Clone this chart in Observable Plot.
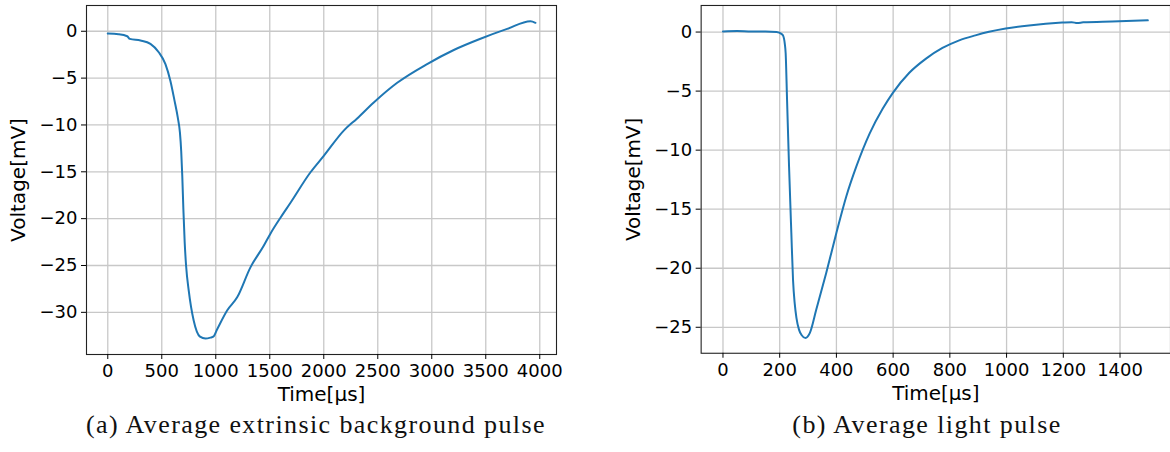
<!DOCTYPE html>
<html>
<head>
<meta charset="utf-8">
<script src="https://cdn.jsdelivr.net/npm/d3@7"></script>
<script src="https://cdn.jsdelivr.net/npm/@observablehq/plot@0.6"></script>
<style>
html, body { margin: 0; padding: 0; background: #fff; overflow: hidden; }
#root { position: relative; width: 1170px; height: 452px; overflow: hidden; background: #fff; }
.panel { position: absolute; top: 0; }
.cap { position: absolute; font-family: "Liberation Serif", serif; font-size: 26px; line-height: 1; color: #111; white-space: nowrap; transform: translateX(-50%); letter-spacing: 1.4px; }
</style>
</head>
<body>
<div id="root">
  <div id="pa" class="panel" style="left:0px"></div>
  <div id="pb" class="panel" style="left:600px"></div>
  <div class="cap" style="left:316px; top:412px">(a) Average extrinsic background pulse</div>
  <div class="cap" style="left:927px; top:412px">(b) Average light pulse</div>
</div>
<script>
// Panel (a): average extrinsic background pulse
const timeA = [0, 100, 180, 204, 303, 395, 472, 534, 580, 618, 648, 668, 680, 690, 700, 712, 725, 750, 796, 854, 905, 951, 977, 1013, 1105, 1198, 1321, 1444, 1506, 1599, 1692, 1877, 2000, 2185, 2309, 2463, 2680, 2957, 3204, 3451, 3698, 3914, 3960];
const voltA = [-0.25, -0.32, -0.53, -0.81, -0.99, -1.35, -2.24, -3.5, -5.3, -7.4, -9.2, -10.8, -12.8, -15.5, -19, -22.5, -25, -27.7, -30.9, -32.6, -32.8, -32.7, -32.6, -31.8, -29.8, -28.4, -25.2, -22.9, -21.6, -19.9, -18.3, -15.05, -13.3, -10.6, -9.3, -7.6, -5.5, -3.5, -2.0, -0.8, 0.25, 1.07, 0.9];

// Panel (b): average light pulse
const timeB = [0, 50, 100, 150, 189, 206, 212, 218, 221, 226, 233, 241, 247, 253, 259, 268, 277, 291, 306, 329, 364, 400, 435, 470, 517, 563, 599, 657, 716, 774, 833, 890, 938, 997, 1079, 1196, 1230, 1249, 1270, 1372, 1498];
const voltB = [0.05, 0.08, 0.05, 0.05, 0.0, -0.15, -0.3, -1.0, -1.8, -5.8, -11.4, -17.0, -21.0, -23.0, -24.2, -25.2, -25.65, -25.9, -25.5, -23.5, -20.4, -17.0, -13.9, -11.4, -8.6, -6.5, -5.15, -3.45, -2.25, -1.35, -0.7, -0.28, 0.02, 0.3, 0.56, 0.8, 0.84, 0.76, 0.82, 0.9, 0.99];

// Tick values
const xTicksA = [0, 500, 1000, 1500, 2000, 2500, 3000, 3500, 4000];
const yTicksA = [0, -5, -10, -15, -20, -25, -30];
const xTicksB = [0, 200, 400, 600, 800, 1000, 1200, 1400];
const yTicksB = [0, -5, -10, -15, -20, -25];

const xLabel = "Time[μs]";
const yLabel = "Voltage[mV]";

const fmt = d => (d < 0 ? "\u2212" + Math.abs(d) : String(d));

function panel({t, v, xDomain, yDomain, xTicks, yTicks, width, marginLeft, marginRight}) {
  const data = t.map((d, i) => ({t: d, v: v[i]}));
  return Plot.plot({
    width,
    height: 410,
    marginTop: 5,
    marginBottom: 56,
    marginLeft,
    marginRight,
    style: {fontFamily: "DejaVu Sans", fontSize: "18px", color: "#000", background: "#fff", overflow: "visible"},
    x: {domain: xDomain, label: null},
    y: {domain: yDomain, label: null},
    marks: [
      Plot.gridX(xTicks, {stroke: "#c8c8c8", strokeOpacity: 1, strokeWidth: 1.3}),
      Plot.gridY(yTicks, {stroke: "#c8c8c8", strokeOpacity: 1, strokeWidth: 1.3}),
      Plot.line(data, {x: "t", y: "v", stroke: "#1f77b4", strokeWidth: 2, curve: "monotone-x"}),
      Plot.frame({stroke: "#222", strokeWidth: 1.1}),
      Plot.axisX(xTicks, {tickSize: 5, tickPadding: 5, tickFormat: fmt, label: null, fontSize: 18}),
      Plot.axisY(yTicks, {tickSize: 5, tickPadding: 4, tickFormat: fmt, label: null, fontSize: 18}),
      Plot.text([xLabel], {frameAnchor: "bottom", dy: 40, lineAnchor: "middle", fontSize: 20, fill: "#000"}),
      Plot.text([yLabel], {frameAnchor: "left", dx: -68, rotate: -90, lineAnchor: "middle", textAnchor: "middle", fontSize: 20, fill: "#000"})
    ]
  });
}

document.getElementById("pa").appendChild(panel({
  t: timeA, v: voltA,
  xDomain: [-197, 4155], yDomain: [-34.5, 2.75],
  xTicks: xTicksA, yTicks: yTicksA,
  width: 585, marginLeft: 86, marginRight: 29
}));

document.getElementById("pb").appendChild(panel({
  t: timeB, v: voltB,
  xDomain: [-77, 1578], yDomain: [-27.2, 2.25],
  xTicks: xTicksB, yTicks: yTicksB,
  width: 572, marginLeft: 101, marginRight: 0
}));
</script>
</body>
</html>
